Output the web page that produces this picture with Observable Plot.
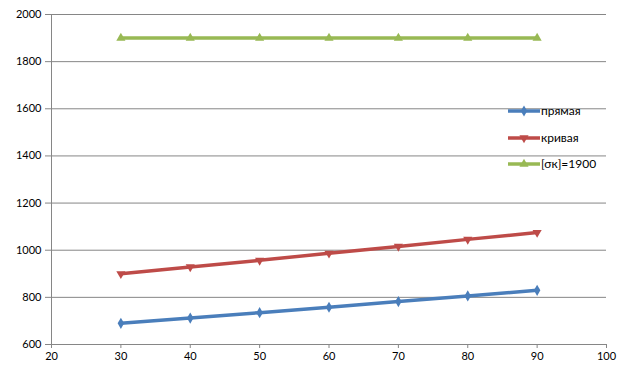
<!DOCTYPE html>
<html>
<head>
<meta charset="utf-8">
<script src="https://cdn.jsdelivr.net/npm/d3@7"></script>
<script src="https://cdn.jsdelivr.net/npm/@observablehq/plot@0.6"></script>
<style>
  html, body { margin: 0; padding: 0; background: #fff; }
  #wrap { position: relative; width: 629px; height: 375px; font-family: Lato, "DejaVu Sans", sans-serif; }
  #legend { position: absolute; left: 508px; top: 102px; font-size: 12px; color: #000; }
  .li { position: absolute; white-space: nowrap; }
</style>
</head>
<body>
<div id="wrap"></div>
<script>
const xs = [30, 40, 50, 60, 70, 80, 90];
const seriesNames = ["прямая", "кривая", "[σк]=1900"];
const straight = [690, 712, 735, 758, 782, 806, 830];
const curved = [900, 929, 957, 987, 1016, 1046, 1075];
const limit = [1900, 1900, 1900, 1900, 1900, 1900, 1900];
const colors = ["#4a7ebb", "#be4b48", "#98b954"];
const xTicks = [20, 30, 40, 50, 60, 70, 80, 90, 100];
const yTicks = [600, 800, 1000, 1200, 1400, 1600, 1800, 2000];

const allVals = [straight, curved, limit];
const data = [];
allVals.forEach((vals, si) => vals.forEach((v, i) => data.push({x: xs[i], y: v, s: seriesNames[si]})));

const symbols = {"прямая": "diamond", "кривая": "triangle", "[σк]=1900": "triangle"};
const rot = {"прямая": 0, "кривая": 180, "[σк]=1900": 0};

const marks = [
  Plot.ruleY(yTicks.slice(1), {stroke: "#868686", strokeWidth: 1}),
  Plot.axisY({ticks: yTicks, tickSize: 6, tickPadding: 4, stroke: "#868686", tickFormat: d => String(d), fontSize: 11, label: null}),
  Plot.axisX({ticks: xTicks, tickSize: 4, tickPadding: 4, stroke: "#868686", tickFormat: d => String(d), fontSize: 11, label: null}),
  Plot.ruleX([20], {stroke: "#868686"}),
  Plot.ruleY([600], {stroke: "#868686"})
];
seriesNames.forEach((name, si) => {
  const d = data.filter(r => r.s === name);
  marks.push(Plot.line(d, {x: "x", y: "y", stroke: colors[si], strokeWidth: 3.5}));
  marks.push(Plot.dot(d, {x: "x", y: "y", fill: colors[si], stroke: "none", symbol: symbols[name], rotate: rot[name], r: 3.4}));
});

const chart = Plot.plot({
  width: 629,
  height: 375,
  marginTop: 14,
  marginRight: 23,
  marginBottom: 31,
  marginLeft: 51,
  style: {fontFamily: "Lato, 'DejaVu Sans', sans-serif", fontSize: "11px", color: "#000", background: "#fff"},
  x: {domain: [20, 100]},
  y: {domain: [600, 2000]},
  marks
});
const wrap = document.getElementById("wrap");
wrap.appendChild(chart);

// legend
const legend = document.createElement("div");
legend.id = "legend";
const legendY = [0, 27, 53];
seriesNames.forEach((name, si) => {
  const item = document.createElement("div");
  item.className = "li";
  item.style.top = legendY[si] + "px";
  item.style.left = "0px";
  const sym = d3.symbol(name === "прямая" ? d3.symbolDiamond : d3.symbolTriangle, 36)();
  const r = rot[name];
  item.innerHTML = `<svg width="32" height="12" style="vertical-align:middle"><line x1="0" x2="32" y1="6" y2="6" stroke="${colors[si]}" stroke-width="3.5"/><path d="${sym}" transform="translate(16,6) rotate(${r})" fill="${colors[si]}"/></svg><span style="vertical-align:middle;margin-left:1px">${name}</span>`;
  legend.appendChild(item);
});
wrap.appendChild(legend);
</script>
</body>
</html>
